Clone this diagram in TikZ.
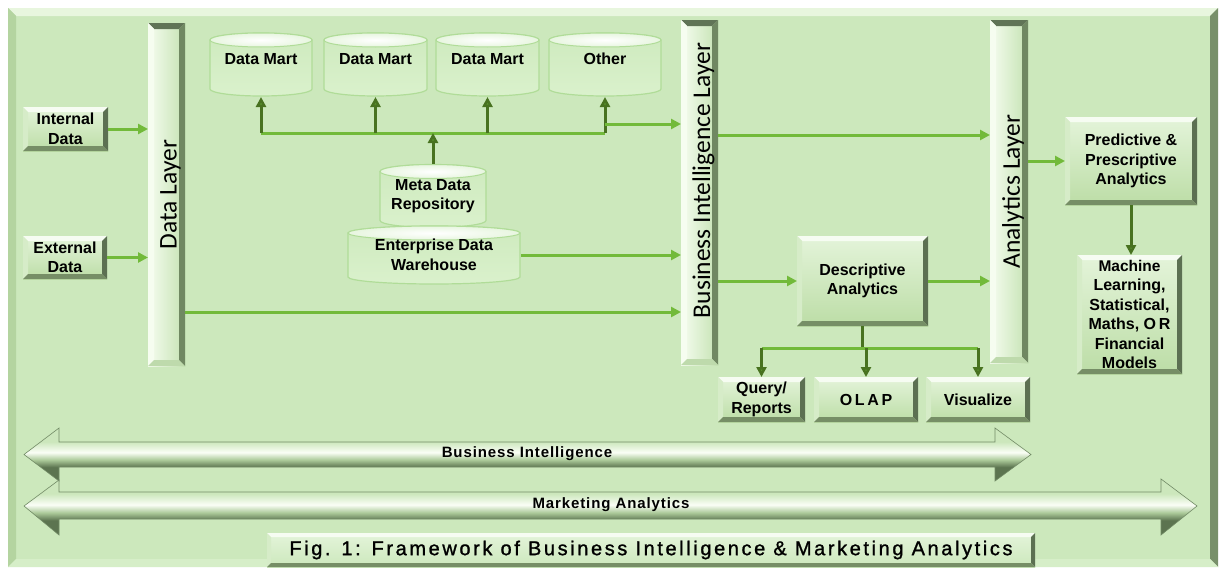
\documentclass[tikz,border=0pt]{standalone}
\usepackage{fontspec}
\setmainfont{Liberation Sans}
\newfontfamily\layerfont{Carlito}
\newfontfamily\capfont[LetterSpace=13,FakeBold=1.2]{Liberation Sans}
\newfontfamily\arrfont[LetterSpace=6]{Liberation Sans}
\usetikzlibrary{arrows.meta,calc}
\definecolor{bgG}{RGB}{204,232,188}
\definecolor{faceT}{RGB}{228,244,218}
\definecolor{faceB}{RGB}{188,221,166}
\definecolor{bevTc}{RGB}{246,252,242}
\definecolor{bevLc}{RGB}{214,236,200}
\definecolor{bevRc}{RGB}{92,112,82}
\definecolor{bevBc}{RGB}{118,142,102}
\definecolor{layTc}{RGB}{96,116,86}
\definecolor{layLc}{RGB}{246,253,240}
\definecolor{layRc}{RGB}{112,136,98}
\definecolor{layBc}{RGB}{190,218,172}
\definecolor{layFaceR}{RGB}{196,226,178}
\definecolor{frTc}{RGB}{232,246,222}
\definecolor{frLc}{RGB}{180,212,160}
\definecolor{frRc}{RGB}{120,144,106}
\definecolor{frBc}{RGB}{214,238,200}
\definecolor{arrowG}{RGB}{114,186,58}
\definecolor{darkG}{RGB}{72,114,32}
\definecolor{cylBodyT}{RGB}{206,234,190}
\definecolor{cylBodyB}{RGB}{218,241,204}
\definecolor{cylEdge}{RGB}{176,220,152}
\definecolor{cylTop}{RGB}{238,249,232}
\definecolor{bArrD}{RGB}{92,116,80}
\definecolor{bArrM}{RGB}{172,202,154}
\definecolor{bArrW}{RGB}{250,254,246}
\definecolor{bArrL}{RGB}{204,231,188}
\pgfdeclareverticalshading{blockarrow}{100bp}{color(0bp)=(bArrD); color(38bp)=(bArrD); color(45bp)=(bArrM); color(52bp)=(bArrW); color(62bp)=(bArrL); color(100bp)=(bArrL)}
\newcommand\boxfont{\fontsize{16}{19.5}\selectfont\bfseries}
\newcommand\bevelpic[6]{%
  \coordinate (bSW) at (path picture bounding box.south west);
  \coordinate (bNE) at (path picture bounding box.north east);
  \coordinate (bNW) at (path picture bounding box.north west);
  \coordinate (bSE) at (path picture bounding box.south east);
  \fill[#1] (bSW) rectangle (bNE);
  \fill[#2] (bNW) -- (bNE) -- ([shift={(-#6,-#6)}]bNE) -- ([shift={(#6,-#6)}]bNW) -- cycle;
  \fill[#3] (bNW) -- ([shift={(#6,-#6)}]bNW) -- ([shift={(#6,#6)}]bSW) -- (bSW) -- cycle;
  \fill[#4] (bNE) -- (bSE) -- ([shift={(-#6,#6)}]bSE) -- ([shift={(-#6,-#6)}]bNE) -- cycle;
  \fill[#5] (bSW) -- ([shift={(#6,#6)}]bSW) -- ([shift={(-#6,#6)}]bSE) -- (bSE) -- cycle;
}
\newcommand\cylpic{%
  \coordinate (cSW) at ([shift={(1pt,1pt)}]path picture bounding box.south west);
  \coordinate (cNE) at ([shift={(-1pt,-1pt)}]path picture bounding box.north east);
  \path[draw=cylEdge, line width=1.2pt, top color=cylBodyT, bottom color=cylBodyB]
    let \p1=(cSW), \p2=(cNE), \n1={(\x2-\x1)/2} in
    (\x1,\y2-7pt) -- (\x1,\y1+7pt)
    arc[start angle=180, end angle=360, x radius=\n1, y radius=7pt]
    -- (\x2,\y2-7pt)
    arc[start angle=0, end angle=180, x radius=\n1, y radius=7pt] -- cycle;
  \path[draw=cylEdge, line width=1pt, inner color=white, outer color=cylTop!80!bgG]
    let \p1=(cSW), \p2=(cNE), \n1={(\x2-\x1)/2} in
    ({(\x1+\x2)/2},\y2-7pt) ellipse[x radius=\n1, y radius=7pt];
}
\begin{document}
\begin{tikzpicture}[x=1pt,y=1pt,
  framebox/.style={rectangle, inner sep=0pt, outer sep=0pt,
    path picture={\bevelpic{bgG}{frTc}{frLc}{frRc}{frBc}{8pt}}},
  bevelbox/.style={rectangle, inner sep=0pt, outer sep=0pt, align=center, font=\boxfont,
    path picture={\bevelpic{top color=faceT,bottom color=faceB}{bevTc}{bevLc}{bevRc}{bevBc}{5pt}}},
  capbox/.style={rectangle, inner sep=0pt, outer sep=0pt, font=\capfont\fontsize{20}{24}\selectfont,
    path picture={\bevelpic{top color=faceT,bottom color=bgG}{bevTc}{bevLc}{bevRc}{bevBc}{4pt}}},
  layerbar/.style={rectangle, inner sep=0pt, outer sep=0pt, font=\layerfont\fontsize{25.5}{28}\selectfont,
    path picture={\bevelpic{left color=layLc,right color=layFaceR}{layTc}{layLc}{layRc}{layBc}{6pt}}},
  cyl/.style={rectangle, inner sep=0pt, outer sep=0pt, align=center, font=\boxfont,
    path picture={\cylpic}},
  conn/.style={draw=arrowG, line width=3pt, -{Triangle[length=10pt,width=10pt]}},
  dconn/.style={draw=darkG, line width=3pt, -{Triangle[length=10pt,width=10pt,fill=arrowG!80!black]}},
  busline/.style={draw=arrowG, line width=3pt},
  dline/.style={draw=darkG, line width=3pt},
  blockarr/.style={shading=blockarrow, draw=bArrD!80!bgG, line width=0.6pt},
  arrlabel/.style={font=\arrfont\fontsize{15}{18}\selectfont\bfseries, inner sep=0pt}
]
\useasboundingbox (0,0) rectangle (1223,-570);
\fill[white] (0,0) rectangle (1223,-570);
\node[framebox, minimum width=1210pt, minimum height=559pt] (frame) at (613,-287.5) {};

% sources
\node[bevelbox, minimum width=85pt, minimum height=44pt] (internal) at (65.5,-129) {Internal\\Data};
\node[bevelbox, minimum width=84pt, minimum height=43pt] (external) at (65,-257.5) {External\\Data};

% layers
\node[layerbar, minimum width=37pt, minimum height=343pt] (datalayer) at (166.5,-194.5) {\hspace*{8pt}\rotatebox{90}{Data Layer}};
\node[layerbar, minimum width=37pt, minimum height=345pt] (bilayer) at (699.5,-192.5) {\hspace*{8pt}\rotatebox{90}{\hspace*{24pt}Business Intelligence Layer}};
\node[layerbar, minimum width=38pt, minimum height=343pt] (anlayer) at (1009,-191.5) {\hspace*{8pt}\rotatebox{90}{Analytics Layer}};

% data marts
\node[cyl, minimum width=104pt, minimum height=65pt, text depth=12pt] (dm1) at (261,-64.5) {Data Mart};
\node[cyl, minimum width=105pt, minimum height=65pt, text depth=12pt] (dm2) at (375.5,-64.5) {Data Mart};
\node[cyl, minimum width=105pt, minimum height=65pt, text depth=12pt] (dm3) at (487.5,-64.5) {Data Mart};
\node[cyl, minimum width=114pt, minimum height=65pt, text depth=12pt] (oth) at (605,-64.5) {Other};

% warehouse
\node[cyl, minimum width=108pt, minimum height=65pt] (meta) at (433,-196) {Meta Data\\Repository};
\node[cyl, minimum width=174pt, minimum height=60pt] (edw) at (434,-255) {Enterprise Data\\Warehouse};

% analytics
\node[bevelbox, minimum width=131pt, minimum height=90pt] (desc) at (862.5,-281) {Descriptive\\Analytics};
\node[bevelbox, minimum width=87pt, minimum height=45pt] (query) at (761.5,-399.5) {Query/\\Reports};
\node[bevelbox, minimum width=104pt, minimum height=45pt] (olap) at (866,-399.5) {O\,L\,A\,P};
\node[bevelbox, minimum width=104pt, minimum height=45pt] (vis) at (978,-399.5) {Visualize};
\node[bevelbox, minimum width=132pt, minimum height=88pt] (pred) at (1131,-161) {Predictive \&\\Prescriptive\\Analytics};
\node[bevelbox, minimum width=105pt, minimum height=119pt] (ml) at (1129.5,-314.5) {\fontsize{15.5}{19.5}\selectfont Machine\\Learning,\\Statistical,\\Maths, O\,R\\Financial\\Models};

% helper levels
\coordinate (bus) at (0,-133);
\coordinate (busout) at (0,-124);
\coordinate (bianl) at (0,-135);
\coordinate (dlbi) at (0,-312);
\coordinate (br) at (0,-348);

% connectors
\draw[conn] (internal.east) -- (internal.east -| datalayer.west);
\draw[conn] (external.east) -- (external.east -| datalayer.west);
\draw[conn] (datalayer.east |- dlbi) -- (bilayer.west |- dlbi);
\draw[busline] (dm1.south |- bus) -- (oth.south |- bus);
\draw[dconn] (meta.north) -- (meta.north |- bus);
\foreach \m in {dm1,dm2,dm3,oth} \draw[dconn] (\m.south |- bus) -- (\m.south);
\draw[conn] (oth.south |- busout) -- (bilayer.west |- busout);
\draw[conn] (edw.east) -- (edw.east -| bilayer.west);
\draw[conn] (bilayer.east |- bianl) -- (anlayer.west |- bianl);
\draw[conn] (desc.west -| bilayer.east) -- (desc.west);
\draw[conn] (desc.east) -- (desc.east -| anlayer.west);
\draw[dline] (desc.south) -- (desc.south |- br);
\draw[busline] (query.north |- br) -- (vis.north |- br);
\foreach \q in {query,olap,vis} \draw[dconn] (\q.north |- br) -- (\q.north);
\draw[conn] (pred.west -| anlayer.east) -- (pred.west);
\draw[dconn] (pred.south) -- (pred.south |- ml.north);

% block arrows
\path[blockarr] (24,-454.5) -- (59,-428) -- (59,-442) -- (995,-442) -- (995,-428) -- (1031,-454.5)
  -- (995,-481) -- (995,-467) -- (59,-467) -- (59,-481) -- cycle;
\node[arrlabel] (bilabel) at (527,-454) {Business Intelligence};
\path[blockarr] (24,-506) -- (59,-480) -- (59,-492) -- (1161,-492) -- (1161,-479) -- (1197,-506)
  -- (1161,-535) -- (1161,-519) -- (59,-519) -- (59,-535) -- cycle;
\node[arrlabel] (malabel) at (611,-505) {Marketing Analytics};

% caption
\node[capbox, minimum width=768pt, minimum height=34pt] (caption) at (651,-550) {Fig. 1: Framework of Business Intelligence \& Marketing Analytics};
\end{tikzpicture}
\end{document}
